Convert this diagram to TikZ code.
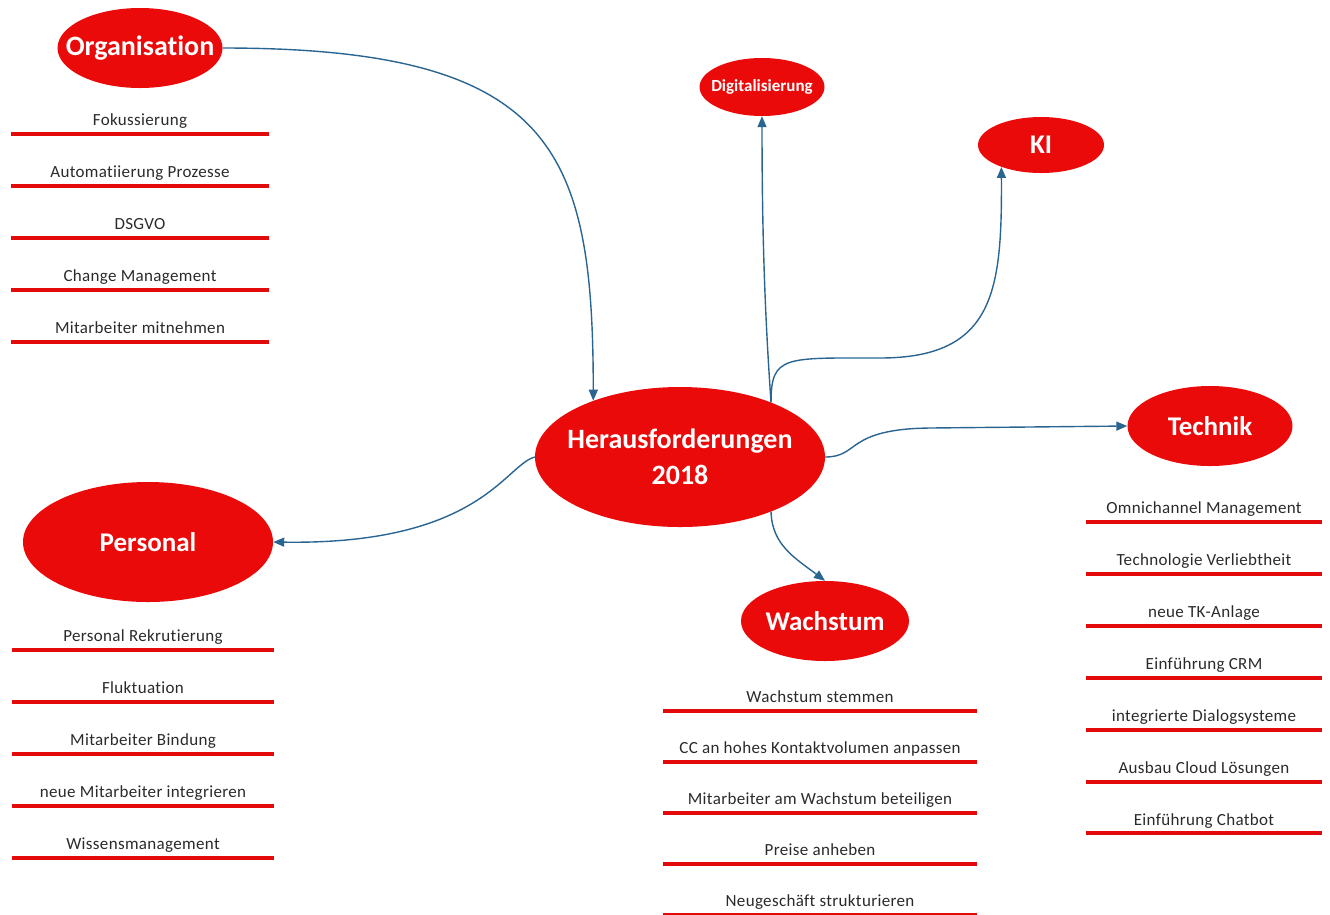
\documentclass[tikz,border=0pt]{standalone}
\usepackage{fontspec}
\setmainfont[Ligatures=NoCommon]{Carlito}
\usetikzlibrary{arrows.meta,positioning,shapes.geometric}
\definecolor{bubble}{HTML}{EA0A0A}
\definecolor{stroke}{HTML}{E20A0A}
\definecolor{link}{HTML}{2A6592}
\definecolor{ink}{HTML}{2A2A2A}

\begin{document}
\begin{tikzpicture}[
  x=1pt, y=-1pt,
  every node/.style={font=\addfontfeature{LetterSpace=2}\fontsize{17}{19}\selectfont, text=ink},
  topic/.style={ellipse, fill=bubble, text=white, inner xsep=-25pt, inner ysep=0pt, align=center, font=\bfseries\fontsize{27}{36}\selectfont},
  bar/.style={draw=stroke, line width=4pt},
  item/.style={minimum width=#1, text height=12pt, text depth=5pt, inner ysep=3pt, inner xsep=0pt,
    append after command={(\tikzlastnode.south west) edge[bar] (\tikzlastnode.south east)}},
  arrow/.style={-{Triangle[length=11pt,width=9pt]}, line width=1.4pt, draw=link},
  node distance=28.5pt
]
\useasboundingbox (0,0) rectangle (1330,914);

% main topics
\node[topic, minimum width=290pt, minimum height=140pt, font=\bfseries\fontsize{28}{36}\selectfont] (hub) at (680,457) {Herausforderungen\\2018};
\node[topic, minimum width=165pt, minimum height=80pt, font=\bfseries\fontsize{28}{30}\selectfont] (org) at (140,48) {Organisation};
\node[topic, minimum width=125pt, minimum height=58pt, font=\bfseries\fontsize{17}{19}\selectfont] (digi) at (762,87) {Digitalisierung};
\node[topic, minimum width=126pt, minimum height=56pt]  (ki)   at (1041,145) {KI};
\node[topic, minimum width=165pt, minimum height=80pt]  (tech) at (1210,426) {Technik};
\node[topic, minimum width=250pt, minimum height=120pt] (pers) at (148,542)  {Personal};
\node[topic, minimum width=168pt, minimum height=80pt]  (wach) at (825,621)  {Wachstum};

% Organisation
\node[item=257pt, anchor=south] (org1) at (140,134) {Fokussierung};
\node[item=257pt, below=of org1] (org2) {Automatiierung Prozesse};
\node[item=257pt, below=of org2] (org3) {DSGVO};
\node[item=257pt, below=of org3] (org4) {Change Management};
\node[item=257pt, below=of org4] (org5) {Mitarbeiter mitnehmen};

% Personal
\node[item=262pt, anchor=south] (pers1) at (143,650) {Personal Rekrutierung};
\node[item=262pt, below=of pers1] (pers2) {Fluktuation};
\node[item=262pt, below=of pers2] (pers3) {Mitarbeiter Bindung};
\node[item=262pt, below=of pers3] (pers4) {neue Mitarbeiter integrieren};
\node[item=262pt, below=of pers4] (pers5) {Wissensmanagement};

% Wachstum
\begin{scope}[node distance=27.5pt]
\node[item=313pt, anchor=south] (wach1) at (820,711) {Wachstum stemmen};
\node[item=313pt, below=of wach1] (wach2) {CC an hohes Kontaktvolumen anpassen};
\node[item=313pt, below=of wach2] (wach3) {Mitarbeiter am Wachstum beteiligen};
\node[item=313pt, below=of wach3] (wach4) {Preise anheben};
\node[item=313pt, below=of wach4] (wach5) {Neugeschäft strukturieren};
\end{scope}

% Technik
\node[item=235pt, anchor=south] (tech1) at (1204,522) {Omnichannel Management};
\node[item=235pt, below=of tech1] (tech2) {Technologie Verliebtheit};
\node[item=235pt, below=of tech2] (tech3) {neue TK-Anlage};
\node[item=235pt, below=of tech3] (tech4) {Einführung CRM};
\node[item=235pt, below=of tech4] (tech5) {integrierte Dialogsysteme};
\node[item=235pt, below=of tech5] (tech6) {Ausbau Cloud Lösungen};
\node[item=235pt, below=of tech6] (tech7) {Einführung Chatbot};

% connectors
\draw[arrow] (org.east) .. controls (555,48) and (593,150) .. (hub.147);
\draw[arrow] (hub.31) .. controls (766,330) and (762,250) .. (digi.south);
\draw[arrow] (hub.31) .. controls (771,355) and (785,358) .. (880,358)
    .. controls (995,358) and (1002,290) .. (ki.209);
\draw[arrow] (hub.east) .. controls (860,457) and (845,429) .. (930,428) -- (tech.west);
\draw[arrow] (hub.west) .. controls (505,465) and (480,545) .. (pers.east);
\draw[arrow] (hub.-31) .. controls (772,545) and (795,558) .. (wach.north);
\end{tikzpicture}
\end{document}
